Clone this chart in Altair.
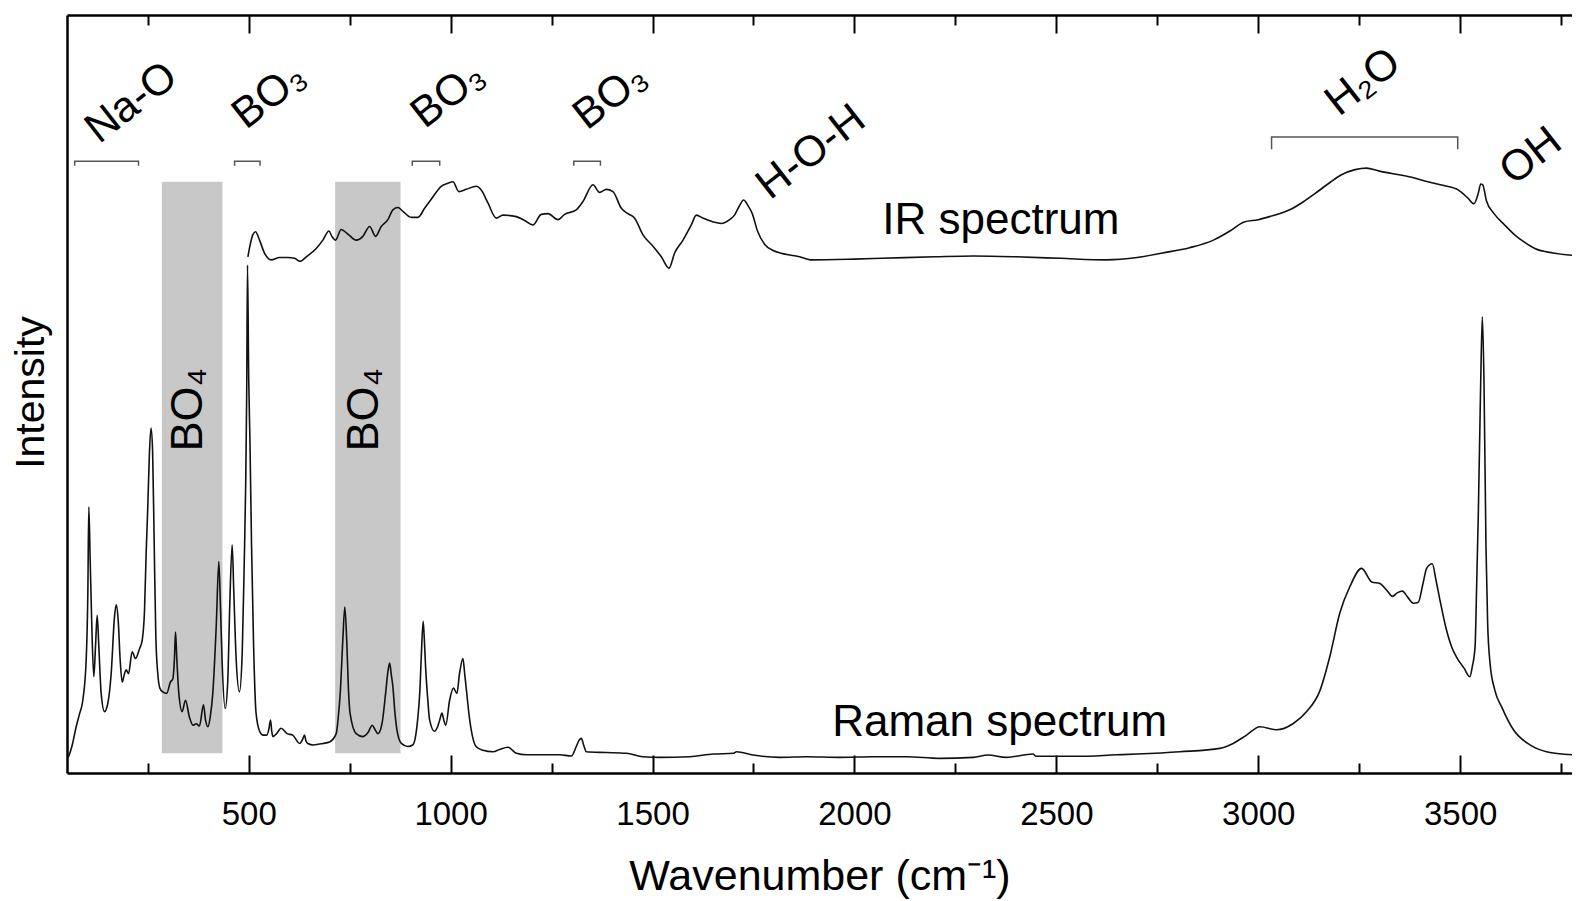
import altair as alt
import pandas as pd

FONT = "Liberation Sans"
TICK_FONT = "Liberation Sans Narrow, Arial Narrow, Liberation Sans"

# ---------------- data ----------------
raman_wn = [50, 52, 62, 72.7, 81, 89.2, 97.5, 101.6, 104, 107.4, 111.5, 116.4, 120.6, 124.7, 128.8,
            134.6, 142.9, 151.1, 159.4, 167.6, 171.8, 176.7, 181.7, 186.6, 192.4, 196.5, 202.3,
            211.4, 219.7, 229.6, 236.2, 242, 246, 250, 254, 258, 262, 266, 270, 275, 280, 287,
            297, 306, 312, 316, 318.7, 322, 327, 335, 343.5, 353, 362, 370, 378, 388, 393, 399,
            405, 411, 419.5, 426, 430, 434, 441.8, 448, 453, 459, 463, 469, 477, 484, 489,
            492.5, 495, 497, 500, 503, 507, 512, 518, 527, 535, 545, 550, 554, 557, 560, 569,
            580, 595, 609, 626, 634, 638, 642, 646.5, 660, 684, 700, 716.7, 722, 726.6, 733,
            738, 743, 747, 751, 766, 783, 795, 806, 812, 820, 830, 839, 845, 849, 853, 857,
            862, 867, 878, 894, 906, 912, 919, 924, 927, 932, 935, 938, 943, 948, 960, 967,
            973, 978.5, 983, 988, 997.5, 1007, 1015.6, 1022, 1030.5, 1035, 1040, 1046, 1051,
            1063, 1080, 1105, 1121, 1142, 1163, 1187, 1230, 1270, 1299, 1311, 1318, 1323.6,
            1330, 1336, 1385, 1435, 1476, 1518, 1592, 1650, 1700, 1708, 1749, 1815, 1881,
            1963, 2046, 2129, 2211, 2294, 2331, 2376, 2442, 2450, 2550, 2650, 2700, 2806,
            2905, 2938, 2971, 3004, 3045, 3086, 3120, 3153, 3177, 3202, 3227, 3256, 3281,
            3301, 3320, 3332, 3345, 3357, 3370, 3384, 3396, 3408, 3417, 3431, 3440, 3450,
            3466, 3480, 3491, 3510, 3524, 3530, 3537, 3541, 3545, 3551, 3555, 3559, 3564,
            3568, 3574, 3586, 3603, 3632, 3673, 3714, 3777]
raman_int = [1.9, 2.0, 3.5, 6.1, 7.8, 9.6, 14.9, 23.7, 35.1, 28.1, 19.3, 12.7, 16.7, 20.8, 16.7,
             10.5, 8.1, 9.2, 13.1, 20.6, 22.2, 20.2, 14.9, 12.0, 13.1, 13.6, 13.1,
             16.0, 15.1, 16.4, 17.5, 21.5, 29.0, 35.0, 42.0, 45.5, 42.5, 30.0, 18.0, 13.0, 11.2, 10.7,
             10.5, 12.0, 12.4, 15.0, 18.6, 15.0, 10.5, 8.1, 9.6, 7.4, 6.3, 6.5, 6.2, 9.0, 7.0, 6.1,
             7.5, 10.5, 19.3, 27.9, 22.0, 14.9, 8.5, 12.0, 22.0, 30.1, 24.0, 14.9, 10.7, 16.0, 28.0,
             38.0, 50.0, 67.0, 52.0, 44.0, 30.0, 17.0, 8.0, 5.5, 5.0, 5.0, 5.8, 7.0, 5.5, 4.8, 5.2,
             5.9, 5.2, 5.0, 3.9, 4.5, 5.0, 4.2, 3.9, 3.7, 3.9, 4.1, 5.2, 7.5, 10.5, 17.5,
             21.9, 17.1, 11.0, 7.9, 5.2, 4.8, 5.3, 6.3, 5.8, 5.2, 6.5, 10.5, 13.5, 14.5, 13.0, 11.4,
             8.0, 5.7, 3.9, 3.5, 3.7, 4.5, 7.4, 11.0, 14.9, 20.0, 17.5, 14.0, 10.0, 7.0, 5.5, 6.0,
             7.0, 7.9, 7.0, 6.3, 9.6, 11.2, 10.5, 13.1, 15.1, 13.0, 10.5, 7.5, 5.7,
             3.5, 3.0, 2.8, 3.1, 3.4, 2.6, 2.4, 2.4, 2.4, 2.24, 3.47, 4.3, 4.57,
             3.6, 2.8, 2.7, 2.6, 2.15, 2.06, 2.15, 2.5, 2.6, 2.8, 2.37, 2.06, 2.15,
             2.06, 2.15, 2.15, 1.93, 2.06, 2.37, 2.06, 2.5, 2.2, 2.2, 2.4, 2.5, 2.8,
             3.25, 3.9, 5.0, 6.1, 5.7, 6.5, 8.1, 10.9, 15.3, 21.1, 24.6, 27.0, 25.2,
             25.0, 24.0, 23.3, 23.8, 24.0, 23.2, 22.4, 22.5, 25.0, 27.0, 27.6, 25.5, 22.8,
             18.9, 16.5, 15.3, 13.8, 12.7, 14.0, 16.7, 25.0, 34.2, 51.8, 60.2, 51.8, 29.8,
             20.0, 14.5, 10.9, 8.7, 5.7, 3.7, 2.8, 2.4]

ir_wn = [498, 503.7, 510, 516.9, 526.8, 539, 555.7, 576.4, 597, 613.5, 627.6, 642.4, 667.2, 683.7,
         698.6, 706, 715, 729, 745.6, 766.3, 782.8, 799.3, 814.2, 828.2, 844.7, 857, 869.5,
         881.9, 902.5, 919, 935.5, 952, 976.8, 993.3, 1005.7, 1020.6, 1038.7, 1063.5, 1075.9,
         1092.4, 1113, 1129.6, 1162.6, 1183.2, 1203.9, 1224.5, 1241, 1265.8, 1282.3, 1311.2,
         1327.7, 1352.5, 1369, 1385.5, 1402, 1422.7, 1439, 1455.7, 1476.4, 1501, 1521.8,
         1540.8, 1554.8, 1575.5, 1596, 1608.5, 1625, 1650, 1670, 1691, 1703, 1715, 1725.5,
         1737, 1747, 1760, 1778.5, 1800, 1816, 1864, 1891, 2000, 2068, 2200, 2295, 2400,
         2510, 2624, 2700, 2763, 2830, 2889, 2930, 2965, 3000, 3028, 3078, 3110, 3142, 3175,
         3205, 3240, 3268, 3300, 3331, 3380, 3420, 3460, 3496, 3520, 3534, 3545, 3551, 3556,
         3565, 3584, 3610, 3635, 3660, 3685, 3730, 3777]
ir_int = [68.1, 69.7, 71.0, 71.4, 70.3, 68.6, 67.7, 68.0, 68.0, 67.9, 67.5, 68.1, 69.2, 70.3,
          71.5, 70.8, 70.3, 71.7, 71.1, 70.3, 70.8, 72.1, 70.8, 72.1, 73.0, 74.3, 74.6,
          74.1, 73.3, 73.3, 74.5, 75.7, 77.4, 77.8, 78.0, 76.7, 77.0, 77.4, 76.9,
          75.2, 73.2, 73.6, 73.4, 72.9, 72.3, 73.7, 73.8, 73.0, 73.7, 74.3,
          75.4, 77.6, 76.6, 77.0, 76.7, 74.5, 73.8, 73.2, 71.0, 69.5, 68.1,
          66.6, 68.6, 70.3, 72.3, 73.6, 73.2, 72.7, 72.5, 73.0, 73.6, 74.8, 75.6,
          74.8, 73.8, 71.5, 69.7, 68.9, 68.6, 68.1, 67.7, 67.8, 67.9, 68.1, 68.2, 68.1,
          67.9, 67.7, 68.0, 68.6, 69.3, 70.3, 71.5, 72.7, 73.0, 73.4, 74.3, 75.3, 76.5, 77.8,
          78.9, 79.6, 79.8, 79.4, 79.1, 78.6, 78.0, 77.5, 76.9, 75.8, 75.1, 76.5, 77.7, 77.6,
          75.5, 73.8, 72.3, 71.0, 70.0, 69.2, 68.6, 68.3]

major_ticks = [500, 1000, 1500, 2000, 2500, 3000, 3500]
minor_ticks = [250, 750, 1250, 1750, 2250, 2750, 3250, 3750]

# shaded BO4 bands
band_start = [285, 714]
band_end = [435, 876]
band_low = [2.6, 2.6]
band_high = [78.0, 78.0]
band_text = ["BO\u2084", "BO\u2084"]
band_text_wn = [385, 819]
band_text_int = [42.4, 42.4]

# assignment brackets
bracket_name = ["Na-O", "BO3a", "BO3b", "BO3c", "H2O"]
bracket_start = [69, 465, 905, 1305, 3033]
bracket_end = [227, 528, 973, 1371, 3494]
bracket_level = [80.7, 80.7, 80.7, 80.7, 83.9]
bracket_leg = [0.6, 0.6, 0.6, 0.6, 1.6]

# rotated assignment labels
label_text = ["Na-O", "BO\u2083", "BO\u2083", "BO\u2083", "H-O-H", "H\u2082O", "OH"]
label_wn = [129, 493, 936, 1338, 1791, 3200, 3632]
label_int = [82.9, 84.8, 84.9, 84.7, 75.5, 86.5, 77.4]

# spectrum names
spec_text = ["IR spectrum", "Raman spectrum"]
spec_wn = [2069, 1945]
spec_int = [71.1, 4.9]

# ---------------- tables ----------------
raman_df = pd.DataFrame({"wn": raman_wn, "inten": raman_int})
ir_df = pd.DataFrame({"wn": ir_wn, "inten": ir_int})
band_df = pd.DataFrame({"x1": band_start, "x2": band_end, "y1": band_low, "y2": band_high})
band_lab_df = pd.DataFrame({"wn": band_text_wn, "inten": band_text_int, "label": band_text})
rows = []
for n, a, b, lv, lg in zip(bracket_name, bracket_start, bracket_end, bracket_level, bracket_leg):
    rows += [
        {"name": n, "k": 0, "wn": a, "inten": lv - lg},
        {"name": n, "k": 1, "wn": a, "inten": lv},
        {"name": n, "k": 2, "wn": b, "inten": lv},
        {"name": n, "k": 3, "wn": b, "inten": lv - lg},
    ]
br_df = pd.DataFrame(rows)
lab_df = pd.DataFrame({"wn": label_wn, "inten": label_int, "label": label_text})
spec_df = pd.DataFrame({"wn": spec_wn, "inten": spec_int, "label": spec_text})

# ---------------- scales & axes ----------------
xs = alt.Scale(domain=[50, 3777], nice=False, zero=False)
ys = alt.Scale(domain=[0, 100], nice=False, zero=False)


def xaxis(**kw):
    base = dict(title=None, grid=False, labelFont=TICK_FONT, titleFont=FONT,
                tickColor="black", domainColor="black", labelColor="black",
                titleColor="black", tickWidth=2, domainWidth=2.5)
    base.update(kw)
    return alt.Axis(**base)


ax_bottom_major = xaxis(orient="bottom", values=major_ticks, tickSize=18, offset=-18,
                        domain=False, labelFontSize=33, labelPadding=25, labelFlush=False,
                        format="d")
ax_bottom_minor = xaxis(orient="bottom", values=minor_ticks, tickSize=10, offset=-10,
                        domain=False, labels=False)
ax_top_major = xaxis(orient="top", values=major_ticks, tickSize=18, offset=-18,
                     domain=False, labels=False)
ax_top_minor = xaxis(orient="top", values=minor_ticks, tickSize=10, offset=-10,
                     domain=False, labels=False)
ax_bottom_frame = xaxis(orient="bottom", ticks=False, labels=False, domain=True,
                        title="Wavenumber (cm\u207b\u00b9)", titleFontSize=43,
                        titleFontWeight="normal", titleY=116, titleBaseline="alphabetic")
ax_top_frame = xaxis(orient="top", ticks=False, labels=False, domain=True)

y_axis = alt.Axis(orient="left", title="Intensity", ticks=False, labels=False, domain=True,
                  domainColor="black", domainWidth=2.5, grid=False, titleFont=FONT,
                  titleFontSize=41, titleFontWeight="normal", titleColor="black",
                  titleX=-24, titleY=377, titleAngle=270, titleBaseline="alphabetic",
                  titleAlign="center")

# ---------------- layers ----------------
bands = alt.Chart(band_df).mark_rect(color="#c8c8c8").encode(
    x=alt.X("x1:Q", scale=xs, axis=ax_top_major), x2="x2:Q",
    y=alt.Y("y1:Q", scale=ys, axis=y_axis), y2="y2:Q")

raman = alt.Chart(raman_df).mark_line(color="#111111", strokeWidth=1.6, interpolate="monotone").encode(
    x=alt.X("wn:Q", scale=xs, axis=ax_bottom_major),
    y=alt.Y("inten:Q", scale=ys, axis=None))

ir = alt.Chart(ir_df).mark_line(color="#111111", strokeWidth=1.6, interpolate="monotone").encode(
    x=alt.X("wn:Q", scale=xs, axis=ax_bottom_minor),
    y=alt.Y("inten:Q", scale=ys, axis=None))

brackets = alt.Chart(br_df).mark_line(color="#555555", strokeWidth=1.5).encode(
    x=alt.X("wn:Q", scale=xs, axis=ax_top_minor),
    y=alt.Y("inten:Q", scale=ys, axis=None),
    detail="name:N", order="k:Q")

labels = alt.Chart(lab_df).mark_text(angle=322, align="left", baseline="alphabetic",
                                     font=FONT, fontSize=43, color="black").encode(
    x=alt.X("wn:Q", scale=xs, axis=ax_bottom_frame),
    y=alt.Y("inten:Q", scale=ys, axis=None), text="label:N")

spec_labels = alt.Chart(spec_df).mark_text(align="left", baseline="alphabetic",
                                           font=FONT, fontSize=44, color="black").encode(
    x=alt.X("wn:Q", scale=xs, axis=ax_top_frame),
    y=alt.Y("inten:Q", scale=ys, axis=None), text="label:N")

band_labels = alt.Chart(band_lab_df).mark_text(angle=270, align="left", baseline="alphabetic",
                                               font=FONT, fontSize=45, color="black").encode(
    x=alt.X("wn:Q", scale=xs, axis=None),
    y=alt.Y("inten:Q", scale=ys, axis=None), text="label:N")

chart = alt.layer(bands, raman, ir, brackets, labels, spec_labels, band_labels).resolve_axis(
    x="independent", y="independent"
).properties(
    width=1505, height=758,
    padding={"left": 59, "top": 7, "right": 0, "bottom": 128},
    autosize=alt.AutoSizeParams(type="none"),
).configure_view(stroke=None)

chart.save("out.html", embed_options={"renderer": "svg", "actions": False})
